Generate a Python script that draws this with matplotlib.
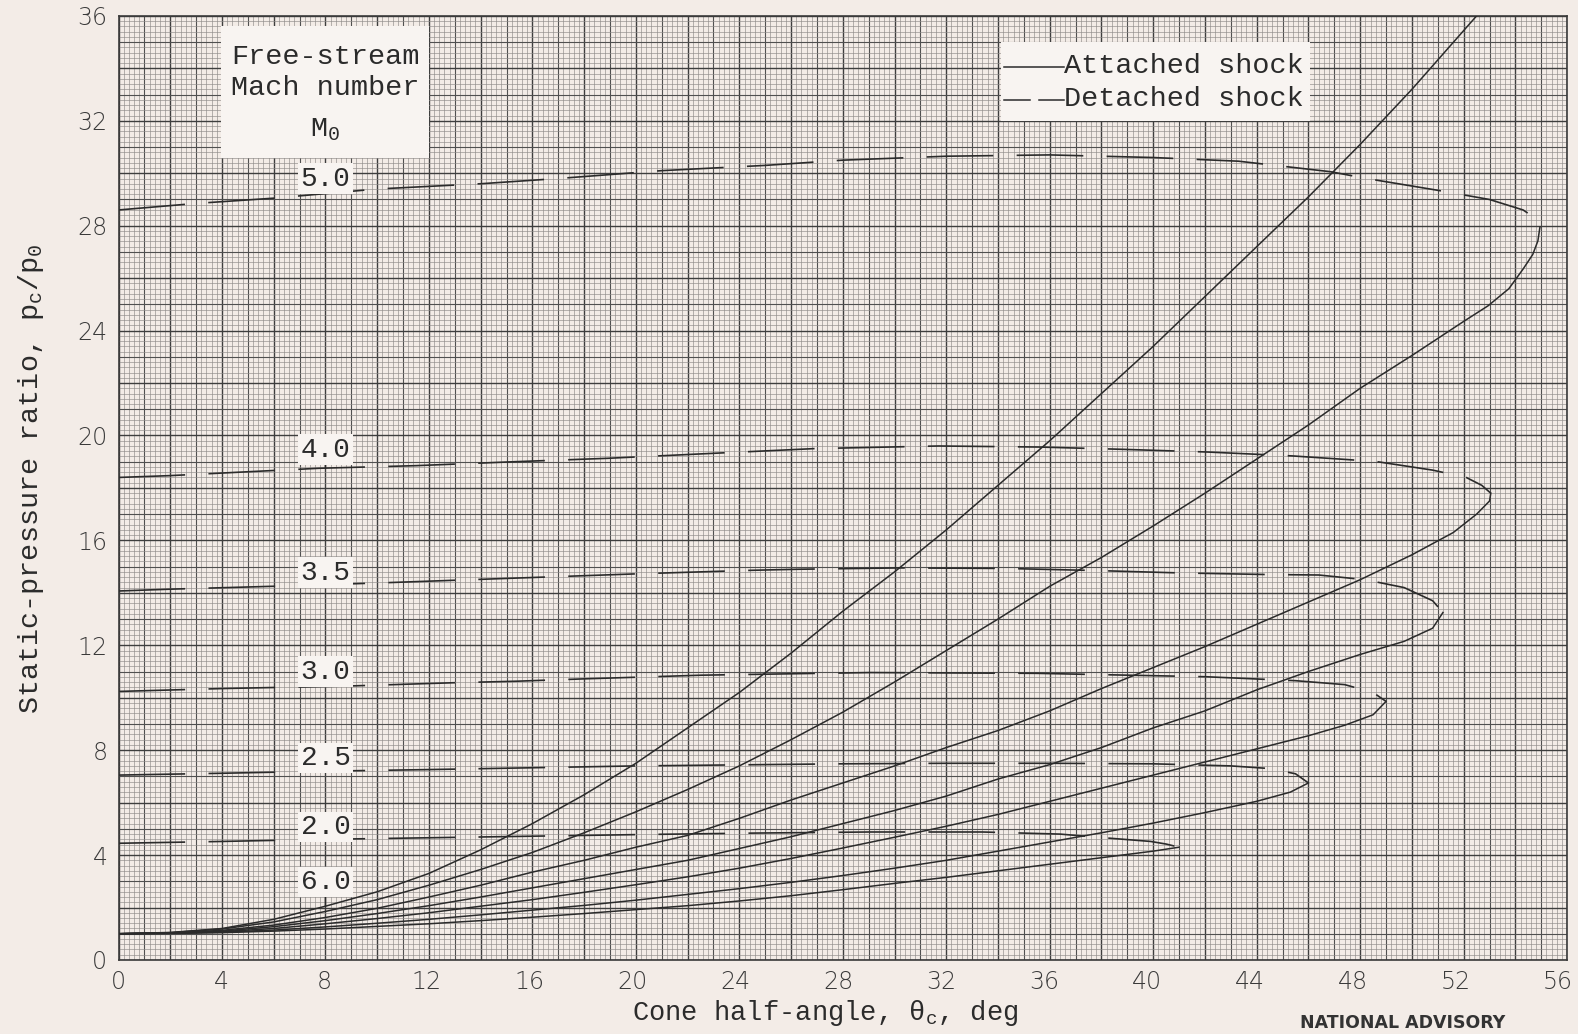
import numpy as np
import matplotlib
matplotlib.use('Agg')
import matplotlib.pyplot as plt
from matplotlib.patches import Rectangle
from matplotlib.transforms import ScaledTranslation

# ---- values: cone half-angle (deg) vs p_c/p_0 ----
mach = ['6.0', '5.0', '4.0', '3.5', '3.0', '2.5', '2.0']

# attached shock (solid)
th_att_60 = [0, 2, 4, 6, 8, 10, 12, 14, 16, 18, 20, 22, 24, 26, 28, 30, 32, 34, 36, 38, 40, 42, 44, 46, 48, 50, 52.5]
p_att_60 = [1.0, 1.05, 1.2, 1.55, 2.05, 2.6, 3.3, 4.2, 5.2, 6.3, 7.5, 8.85, 10.2, 11.7, 13.3, 14.8, 16.4, 18.1, 19.8, 21.6, 23.4, 25.3, 27.2, 29.1, 31.1, 33.2, 36.0]

th_att_50 = [0, 2, 4, 6, 8, 10, 12, 14, 16, 18, 20, 22, 24, 26, 28, 30, 32, 34, 36, 38, 40, 42, 44, 46, 48, 50, 51, 52, 52.95, 53.75, 54.3, 54.67, 54.87, 54.95]
p_att_50 = [1.0, 1.04, 1.18, 1.45, 1.85, 2.3, 2.85, 3.45, 4.1, 4.85, 5.65, 6.5, 7.4, 8.4, 9.45, 10.6, 11.8, 13.0, 14.25, 15.35, 16.55, 17.8, 19.1, 20.4, 21.8, 23.05, 23.7, 24.35, 24.95, 25.6, 26.35, 26.9, 27.42, 27.95]

th_att_40 = [0, 2, 4, 6, 8, 10, 12, 14, 16, 18, 20, 22, 24, 26, 28, 30, 32, 34, 36, 38, 40, 42, 44, 46, 48, 50, 51.6, 52.5, 53.0, 53.05]
p_att_40 = [1.0, 1.03, 1.13, 1.33, 1.62, 1.97, 2.4, 2.85, 3.35, 3.8, 4.3, 4.75, 5.4, 6.1, 6.75, 7.4, 8.1, 8.75, 9.5, 10.35, 11.15, 11.95, 12.8, 13.65, 14.5, 15.45, 16.3, 17.0, 17.5, 17.8]

th_att_35 = [0, 2, 4, 6, 8, 10, 12, 14, 16, 18, 20, 22, 24, 26, 28, 30, 32, 34, 36, 38, 40, 42, 44, 46, 48, 49.7, 50.8, 51.2]
p_att_35 = [1.0, 1.03, 1.1, 1.27, 1.5, 1.77, 2.07, 2.4, 2.75, 3.1, 3.45, 3.8, 4.25, 4.7, 5.2, 5.7, 6.25, 6.9, 7.45, 8.1, 8.85, 9.5, 10.3, 11.0, 11.65, 12.15, 12.65, 13.25]

th_att_30 = [0, 2, 4, 6, 8, 10, 12, 14, 16, 18, 20, 22, 24, 26, 28, 30, 32, 34, 36, 38, 40, 42, 44, 46, 47.4, 48.5, 49.0]
p_att_30 = [1.0, 1.02, 1.08, 1.2, 1.38, 1.58, 1.8, 2.05, 2.3, 2.58, 2.87, 3.17, 3.5, 3.87, 4.27, 4.68, 5.1, 5.55, 6.05, 6.55, 7.05, 7.55, 8.05, 8.55, 8.95, 9.35, 9.86]

th_att_25 = [0, 2, 4, 6, 8, 10, 12, 14, 16, 18, 20, 22, 24, 26, 28, 30, 32, 34, 36, 38, 40, 42, 44, 45.3, 46.0]
p_att_25 = [1.0, 1.02, 1.06, 1.14, 1.26, 1.4, 1.55, 1.72, 1.9, 2.08, 2.28, 2.5, 2.72, 2.96, 3.22, 3.5, 3.8, 4.15, 4.5, 4.85, 5.22, 5.62, 6.05, 6.4, 6.75]

th_att_20 = [0, 2, 4, 6, 8, 10, 12, 14, 16, 18, 20, 22, 24, 26, 28, 30, 32, 34, 36, 38, 40, 41]
p_att_20 = [1.0, 1.01, 1.04, 1.1, 1.18, 1.28, 1.38, 1.5, 1.63, 1.77, 1.92, 2.07, 2.25, 2.45, 2.68, 2.92, 3.15, 3.4, 3.65, 3.9, 4.15, 4.3]

# detached shock (dashed)
th_det_50 = [0, 3, 6, 10, 14, 17, 21, 25, 28, 32, 36, 40, 43.3, 46.85, 48.25, 51, 53, 54.3, 54.75, 54.95]
p_det_50 = [28.6, 28.85, 29.05, 29.4, 29.6, 29.8, 30.1, 30.3, 30.5, 30.65, 30.7, 30.6, 30.46, 30.06, 29.8, 29.35, 29.0, 28.6, 28.3, 27.95]

th_det_40 = [0, 2, 4.65, 7.75, 11.5, 15.3, 18.9, 22.55, 26.9, 31.7, 35.6, 38.9, 42.1, 45.4, 48.6, 50.8, 52.1, 52.7, 53.05]
p_det_40 = [18.4, 18.47, 18.6, 18.75, 18.85, 19.0, 19.13, 19.3, 19.5, 19.6, 19.56, 19.47, 19.37, 19.22, 19.01, 18.68, 18.4, 18.1, 17.8]

th_det_35 = [0, 2, 6.35, 10.15, 15, 20.2, 24.5, 26.3, 30.2, 34.3, 37.8, 41, 44.3, 46.4, 48.2, 49.7, 50.8, 51.2]
p_det_35 = [14.07, 14.14, 14.26, 14.38, 14.55, 14.73, 14.86, 14.9, 14.95, 14.93, 14.85, 14.76, 14.7, 14.68, 14.5, 14.2, 13.7, 13.25]

th_det_30 = [0, 4, 9, 12.9, 15.4, 18, 22.55, 29.05, 35.5, 42.05, 45.5, 47.4, 48.5, 49.0]
p_det_30 = [10.24, 10.35, 10.45, 10.57, 10.63, 10.72, 10.86, 10.96, 10.93, 10.8, 10.65, 10.5, 10.2, 9.86]

th_det_25 = [0, 4, 8, 12, 16, 20, 24, 28, 32, 36, 40, 43, 44.5, 45.5, 46.0]
p_det_25 = [7.05, 7.12, 7.2, 7.26, 7.33, 7.4, 7.44, 7.48, 7.5, 7.5, 7.48, 7.4, 7.3, 7.1, 6.75]

th_det_20 = [0, 4, 8, 12, 16, 20, 24.7, 29, 33.4, 36.4, 38.1, 39.9, 40.5, 41.0]
p_det_20 = [4.45, 4.52, 4.6, 4.66, 4.72, 4.78, 4.84, 4.88, 4.88, 4.8, 4.66, 4.52, 4.42, 4.3]

# Mach-number tags, all set on the 8 deg line
tag_p = [2.98, 29.8, 19.46, 14.77, 11.0, 7.7, 5.08]

x_ticks = list(range(0, 57, 4))
y_ticks = list(range(0, 37, 4))

paper = '#f3ece7'
boxc = '#f8f4f1'
ink = '#2b2b2b'
mono = 'Liberation Mono'

plt.rcParams['mathtext.fontset'] = 'custom'
plt.rcParams['mathtext.rm'] = mono
plt.rcParams['mathtext.it'] = mono

fig = plt.figure(figsize=(15.78, 10.34), dpi=100, facecolor=paper)
ax = fig.add_axes([0.0751, 0.0716, 0.918, 0.913], facecolor=paper)

# graph-paper ruling
def rule(k):
    if k % 10 == 0:
        return 1.0, '#3e3e3e'
    if k % 5 == 0:
        return 0.8, '#505050'
    return 0.45, '#8f8c8a'

for k in range(0, 281):
    lw, c = rule(k)
    ax.axvline(k / 5, color=c, lw=lw, zorder=1)
for k in range(0, 181):
    lw, c = rule(k)
    ax.axhline(k / 5, color=c, lw=lw, zorder=1)

att = [(th_att_60, p_att_60), (th_att_50, p_att_50), (th_att_40, p_att_40),
       (th_att_35, p_att_35), (th_att_30, p_att_30), (th_att_25, p_att_25),
       (th_att_20, p_att_20)]
det = [None, (th_det_50, p_det_50), (th_det_40, p_det_40), (th_det_35, p_det_35),
       (th_det_30, p_det_30), (th_det_25, p_det_25), (th_det_20, p_det_20)]

for (th, p) in att:
    ax.plot(th, p, color=ink, lw=1.1, zorder=3)
for d in det:
    if d is None:
        continue
    ax.plot(d[0], d[1], color=ink, lw=1.2, dashes=(40, 14), zorder=3)

# Mach number tags with leaders
for i, m in enumerate(mach):
    if det[i] is None:
        target = np.interp(8, att[i][0], att[i][1])
    else:
        target = np.interp(8, det[i][0], det[i][1])
    ax.annotate(m, xy=(8, target), xytext=(8, tag_p[i]), ha='center', va='center',
                fontsize=20, family=mono, color=ink, zorder=6,
                bbox=dict(boxstyle='square,pad=0.08', fc=boxc, ec='none'),
                arrowprops=dict(arrowstyle='-', lw=1.1, color=ink, shrinkA=0, shrinkB=0))

# "Free-stream Mach number" box
ax.add_patch(Rectangle((3.95, 30.6), 8.05, 5.0, fc=boxc, ec='none', zorder=5))
ax.text(8, 34.45, 'Free-stream', ha='center', va='center', fontsize=20.5, family=mono, color=ink, zorder=6)
ax.text(8, 33.25, 'Mach number', ha='center', va='center', fontsize=20.5, family=mono, color=ink, zorder=6)
ax.text(8, 31.7, r'$\mathrm{M_0}$', ha='center', va='center', fontsize=20.5, color=ink, zorder=6)

# key
ax.add_patch(Rectangle((34.1, 32.0), 11.95, 3.0, fc=boxc, ec='none', zorder=5))
ax.plot([34.25, 36.55], [34.05, 34.05], color=ink, lw=1.1, zorder=6)
ax.plot([34.25, 35.25], [32.8, 32.8], color=ink, lw=1.1, zorder=6)
ax.plot([35.6, 36.55], [32.8, 32.8], color=ink, lw=1.1, zorder=6)
ax.text(36.55, 34.1, 'Attached shock', ha='left', va='center', fontsize=20.5, family=mono, color=ink, zorder=6)
ax.text(36.55, 32.85, 'Detached shock', ha='left', va='center', fontsize=20.5, family=mono, color=ink, zorder=6)

ax.set_xlim(0, 56)
ax.set_ylim(0, 36)
ax.set_xticks(x_ticks)
ax.set_yticks(y_ticks)
ax.set_xticklabels([str(v) for v in x_ticks])
ax.set_yticklabels([str(v) for v in y_ticks])
ax.tick_params(length=0, labelsize=17, labelcolor='#3a3a3a')
ax.tick_params(axis='x', pad=7)
ax.tick_params(axis='y', pad=8)
# the printed numbers drift a little left toward the right end of the scale
for v, lab in zip(x_ticks, ax.get_xticklabels()):
    lab.set_transform(lab.get_transform() + ScaledTranslation(-0.09 * v / 56, 0, fig.dpi_scale_trans))
for lab in ax.get_xticklabels() + ax.get_yticklabels():
    lab.set_fontweight('light')
for s in ax.spines.values():
    s.set_color('#3a3a3a')
    s.set_linewidth(1.2)

ax.set_xlabel(r'Cone half-angle, $\mathrm{θ_c}$, deg', fontsize=19.5, family=mono, color=ink)
ax.set_ylabel(r'Static-pressure ratio, $\mathrm{p_c/p_0}$', fontsize=20.5, family=mono, color=ink)
ax.xaxis.set_label_coords(0.488, -0.040)
ax.yaxis.set_label_coords(-0.050, 0.51)

fig.text(1403 / 1578, 1 - 1023 / 1034, 'NATIONAL ADVISORY', ha='center', va='center',
         fontsize=12.5, fontweight='bold', color='#333333')

plt.savefig('out.png', dpi=100, facecolor=paper)
